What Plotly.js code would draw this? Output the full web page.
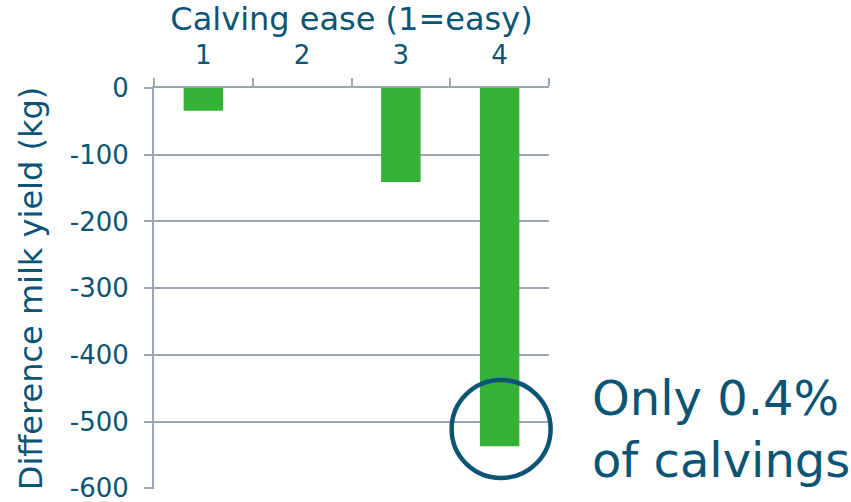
<!DOCTYPE html>
<html>
<head>
<meta charset="utf-8">
<script src="https://cdn.plot.ly/plotly-3.0.1.min.js"></script>
<style>html,body{margin:0;padding:0;background:#fff;}#chart{width:851px;height:502px;}</style>
</head>
<body>
<div id="chart"></div>
<script>
// Data
const categories = ['1', '2', '3', '4'];
const milkDifference = [-34, 0, -141, -537];
const yTickVals = [0, -100, -200, -300, -400, -500, -600];
const yTickText = ['0', '-100', '-200', '-300', '-400', '-500', '-600'];
const xTitle = 'Calving ease (1=easy)';
const yTitle = 'Difference milk yield (kg)';
const noteText = 'Only 0.4%<br>of calvings';
const highlightCategory = '4';
const highlightValue = -511;

const textColor = '#0b5474';
const gridColor = '#9ba6b2';
const barColor = '#35b235';
const fontFamily = '"DejaVu Sans", Verdana, sans-serif';

const yRange = [-601, 0];
const xRange = [-0.5, categories.length - 0.5];

// Circle anchor converted to paper coordinates so it is not clipped by the plot area
const hlIndex = categories.indexOf(highlightCategory);
const hlPaperX = (hlIndex - xRange[0]) / (xRange[1] - xRange[0]);
const hlPaperY = (highlightValue - yRange[0]) / (yRange[1] - yRange[0]);

const trace = {
  type: 'bar',
  x: categories,
  y: milkDifference,
  marker: {color: barColor},
  hoverinfo: 'x+y'
};

const layout = {
  width: 851,
  height: 502,
  margin: {l: 154, r: 302, t: 88, b: 13, pad: 0, autoexpand: false},
  paper_bgcolor: '#ffffff',
  plot_bgcolor: '#ffffff',
  font: {family: fontFamily, color: textColor, size: 26},
  bargap: 0.6,
  showlegend: false,
  xaxis: {
    type: 'category',
    side: 'top',
    range: xRange,
    title: {text: xTitle, font: {size: 32, color: textColor}, standoff: 2},
    showline: true,
    linecolor: gridColor,
    linewidth: 2,
    ticks: 'outside',
    tickson: 'boundaries',
    ticklen: 8,
    tickwidth: 2,
    tickcolor: gridColor,
    showgrid: false,
    tickfont: {size: 26, color: textColor},
    ticklabelstandoff: 12,
    fixedrange: true
  },
  yaxis: {
    range: yRange,
    tickvals: yTickVals,
    ticktext: yTickText,
    title: {text: yTitle, font: {size: 32, color: textColor}, standoff: 18},
    showline: true,
    linecolor: gridColor,
    linewidth: 2,
    ticks: 'outside',
    ticklen: 8,
    tickwidth: 2,
    tickcolor: gridColor,
    showgrid: true,
    gridcolor: gridColor,
    gridwidth: 2,
    zeroline: false,
    tickfont: {size: 26, color: textColor},
    ticklabelstandoff: 10,
    ticklabeloverflow: 'allow',
    fixedrange: true
  },
  shapes: [{
    type: 'circle',
    xref: 'paper', yref: 'paper',
    xsizemode: 'pixel', ysizemode: 'pixel',
    xanchor: hlPaperX, yanchor: hlPaperY,
    x0: -48, x1: 51, y0: -49, y1: 49,
    line: {color: textColor, width: 4.5},
    fillcolor: 'rgba(0,0,0,0)'
  }],
  annotations: [{
    xref: 'paper', yref: 'paper',
    x: 1.104, y: 0.15,
    xanchor: 'left', yanchor: 'middle',
    align: 'left',
    showarrow: false,
    text: noteText,
    font: {size: 48, color: textColor, family: fontFamily}
  }]
};

Plotly.newPlot('chart', [trace], layout, {displayModeBar: false, staticPlot: true});
</script>
</body>
</html>
